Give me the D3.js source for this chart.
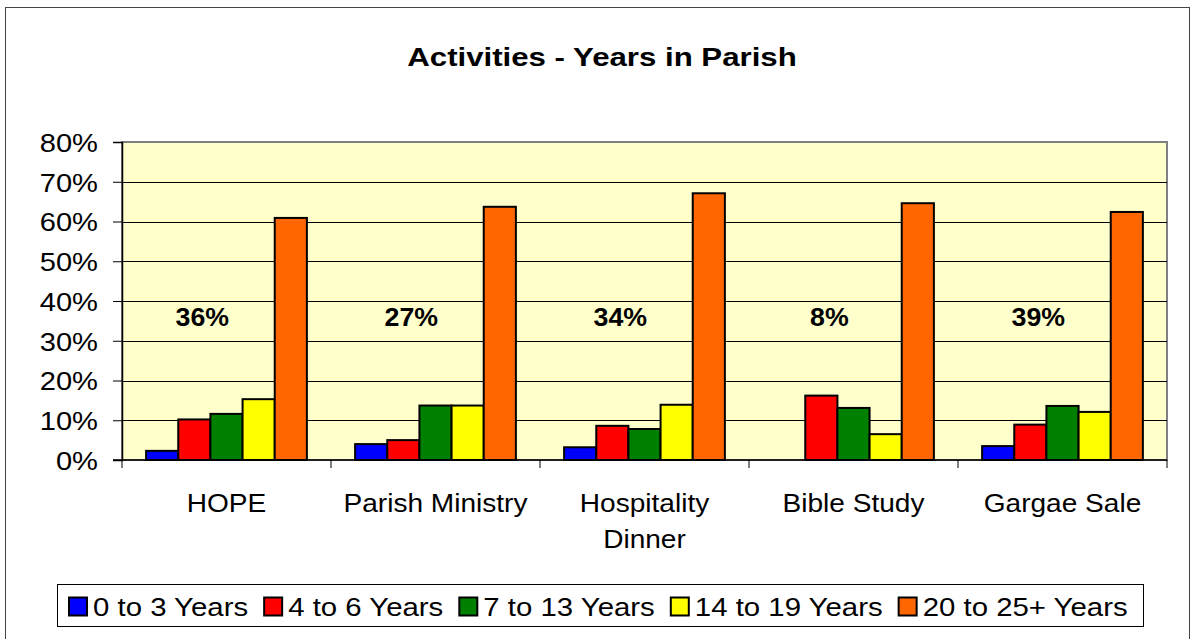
<!DOCTYPE html>
<html>
<head>
<meta charset="utf-8">
<script src="https://cdn.jsdelivr.net/npm/d3@7"></script>
<style>
	body { margin: 0; background: #fff; }
	text { font-family: Arial, "Liberation Sans", sans-serif; }
</style>
</head>
<body>
<svg id="chart" width="1191" height="639"></svg>
<script>
// categories and series
var categories = ["HOPE", "Parish Ministry", "Hospitality Dinner", "Bible Study", "Gargae Sale"];
var seriesNames = ["0 to 3 Years", "4 to 6 Years", "7 to 13 Years", "14 to 19 Years", "20 to 25+ Years"];
var seriesColors = ["#0000FF", "#FF0000", "#008000", "#FFFF00", "#FF6600"];

// values per series, one per category (percent)
var years0to3 = [2.3, 4.0, 3.2, 0, 3.5];
var years4to6 = [10.2, 5.0, 8.6, 16.2, 8.9];
var years7to13 = [11.6, 13.7, 7.8, 13.1, 13.6];
var years14to19 = [15.3, 13.7, 13.9, 6.5, 12.1];
var years20to25 = [60.9, 63.7, 67.1, 64.6, 62.4];
var seriesValues = [years0to3, years4to6, years7to13, years14to19, years20to25];

// floating annotation per category
var annotations = ["36%", "27%", "34%", "8%", "39%"];

var yTicks = [0, 10, 20, 30, 40, 50, 60, 70, 80];

var svg = d3.select("#chart");

// the original text is drawn wider than plain Arial; stretch around the anchor x
var stretch = function (sel, sx, ax) {
	sel.attr("transform", function () {
		var x = ax !== undefined ? ax : (+this.getAttribute("x") || 0);
		return "translate(" + x + ",0) scale(" + sx + ",1) translate(" + (-x) + ",0)";
	});
};

// outer chart frame
svg.append("rect")
	.attr("x", 5.5).attr("y", 7.5)
	.attr("width", 1184).attr("height", 640)
	.attr("fill", "none").attr("stroke", "#444").attr("stroke-width", 1);

var plot = {left: 122, right: 1167, top: 142, bottom: 460};

var x0 = d3.scaleBand()
	.domain(categories)
	.range([plot.left, plot.right])
	.paddingInner(0).paddingOuter(0);

// 5 bars + gap of 150% of one bar width
var barW = x0.bandwidth() / 6.5;
var x1 = d3.scaleBand()
	.domain(d3.range(seriesNames.length))
	.range([0.75 * barW, 0.75 * barW + 5 * barW]);

var y = d3.scaleLinear().domain([0, 80]).range([plot.bottom, plot.top]);

// title
svg.append("text")
	.attr("x", 602).attr("y", 66.5)
	.attr("text-anchor", "middle")
	.attr("font-size", "26px").attr("font-weight", "bold")
	.text("Activities - Years in Parish")
	.call(stretch, 1.2);

// plot background
svg.append("rect")
	.attr("x", plot.left).attr("y", plot.top)
	.attr("width", plot.right - plot.left).attr("height", plot.bottom - plot.top)
	.attr("fill", "#FFFFCC")
	.attr("stroke", "#808080").attr("stroke-width", 2);

// gridlines
svg.append("g")
	.selectAll("line")
	.data(yTicks.filter(function (d) { return d > 0 && d < 80; }))
	.join("line")
	.attr("x1", plot.left).attr("x2", plot.right)
	.attr("y1", function (d) { return Math.round(y(d)) + 0.5; })
	.attr("y2", function (d) { return Math.round(y(d)) + 0.5; })
	.attr("stroke", "#000").attr("stroke-width", 1);

// bars
var groups = svg.append("g")
	.selectAll("g")
	.data(categories)
	.join("g")
	.attr("transform", function (d) { return "translate(" + x0(d) + ",0)"; });

groups.selectAll("rect")
	.data(function (d, ci) {
		return seriesValues.map(function (vals, si) { return {si: si, v: vals[ci]}; })
			.filter(function (e) { return e.v > 0; });
	})
	.join("rect")
	.attr("x", function (d) { return x1(d.si); })
	.attr("y", function (d) { return y(d.v); })
	.attr("width", x1.bandwidth())
	.attr("height", function (d) { return y(0) - y(d.v); })
	.attr("fill", function (d) { return seriesColors[d.si]; })
	.attr("stroke", "#000").attr("stroke-width", 2);

// annotations
svg.append("g")
	.selectAll("text")
	.data(annotations)
	.join("text")
	.attr("x", function (d, i) { return x0(categories[i]) + x0.bandwidth() / 2 - 0.75 * barW; })
	.attr("y", y(36) + 9)
	.attr("text-anchor", "middle")
	.attr("font-size", "25px").attr("font-weight", "bold")
	.text(function (d) { return d; })
	.call(stretch, 1.07);

// y axis
var yAxis = svg.append("g")
	.attr("transform", "translate(" + plot.left + ",0)")
	.call(d3.axisLeft(y).tickValues(yTicks).tickSize(9).tickPadding(15)
		.tickFormat(function (d) { return d + "%"; }));
yAxis.select(".domain").attr("stroke", "#000").attr("stroke-width", 1.5);
yAxis.selectAll(".tick line").attr("stroke", "#000");
yAxis.selectAll(".tick text")
	.attr("font-size", "26px").attr("fill", "#000").attr("dy", "0.36em")
	.attr("font-family", "Arial, 'Liberation Sans', sans-serif")
	.call(stretch, 1.12);

// x axis
var xAxis = svg.append("g")
	.attr("transform", "translate(0," + plot.bottom + ")");
xAxis.append("line")
	.attr("x1", plot.left - 9).attr("x2", plot.right)
	.attr("y1", 0).attr("y2", 0)
	.attr("stroke", "#000").attr("stroke-width", 1.5);
var xTicks = categories.map(function (c) { return x0(c); }).concat([plot.right]);
xAxis.selectAll("line.tick")
	.data(xTicks)
	.join("line")
	.attr("class", "tick")
	.attr("x1", function (d) { return d; }).attr("x2", function (d) { return d; })
	.attr("y1", 0).attr("y2", 8)
	.attr("stroke", "#000");

// category labels, wrapped like the original
var labelLines = function (c) {
	return c === "Hospitality Dinner" ? ["Hospitality", "Dinner"] : [c];
};
xAxis.selectAll("text.cat")
	.data(categories)
	.join("text")
	.attr("class", "cat")
	.attr("text-anchor", "middle")
	.attr("font-size", "26px")
	.each(function (c) {
		var t = d3.select(this);
		var cx = x0(c) + x0.bandwidth() / 2;
		labelLines(c).forEach(function (line, i) {
			t.append("tspan")
				.attr("x", cx)
				.attr("y", 52 + i * 36)
				.text(line);
		});
		stretch(t, 1.08, cx);
	});

// legend
var legend = svg.append("g");
legend.append("rect")
	.attr("x", 57.5).attr("y", 584.5)
	.attr("width", 1086).attr("height", 42)
	.attr("fill", "#fff").attr("stroke", "#000").attr("stroke-width", 1);

var lx = 69;
var legendStretch = 1.13;
seriesNames.forEach(function (name, i) {
	legend.append("rect")
		.attr("x", lx).attr("y", 597.5)
		.attr("width", 18).attr("height", 18)
		.attr("fill", seriesColors[i])
		.attr("stroke", "#000").attr("stroke-width", 2);
	var t = legend.append("text")
		.attr("x", lx + 24).attr("y", 616)
		.attr("font-size", "26px")
		.text(name)
		.call(stretch, legendStretch);
	lx += 24 + t.node().getComputedTextLength() * legendStretch + 16;
});
</script>
</body>
</html>
